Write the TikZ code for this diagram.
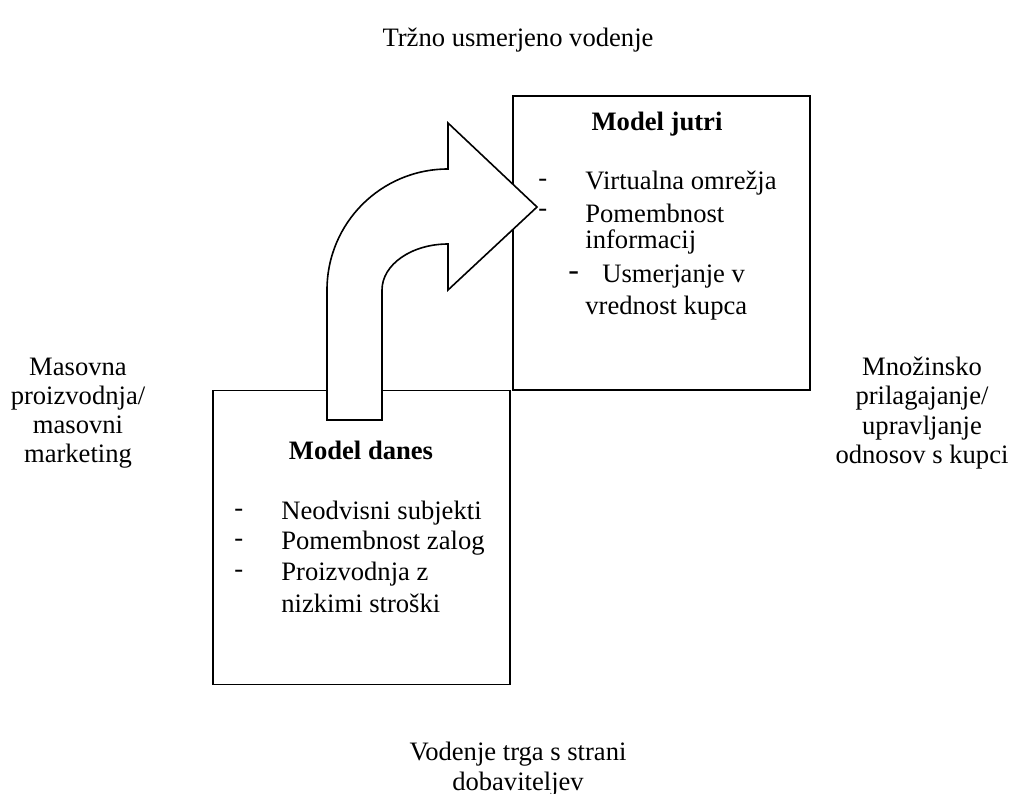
\documentclass[tikz,border=0pt]{standalone}
\usepackage{fontspec}
\setmainfont{Liberation Serif}
\tikzset{
  modelbox/.style={draw,line width=.8pt,minimum width=148.5pt,minimum height=147pt,inner sep=0pt},
  label/.style={align=center,font=\fontsize{13.3}{14.6}\selectfont,inner sep=0pt},
  title/.style={font=\fontsize{13.3}{14.6}\selectfont\bfseries,inner sep=0pt},
  item/.style={anchor=west,font=\fontsize{13.3}{14.6}\selectfont,inner sep=0pt},
}
\begin{document}
\begin{tikzpicture}[x=.5pt,y=-.5pt]
        \useasboundingbox (0,0) rectangle (1033,793);

        % the two models
        \node[modelbox] (jutri) at (661.5,243) {};
        \node[modelbox] (danes) at (361.5,537.5) {};

        % turning arrow
        \draw[line width=.8pt,fill=white] (327,420) -- (327,290)
          .. controls (327,223) and (381,169) .. (448,169) -- (448,123)
          -- (537,207) -- (448,290) -- (448,244)
          .. controls (411.5,244) and (382,264.6) .. (382,290)
          -- (382,420) -- cycle;

        \node[title] (tjutri) at (657,124) {Model jutri};
        \node[item] (d1) at (538,183) {-};
        \node[item] (j1) at (585,183) {Virtualna omrežja};
        \node[item] (d2) at (538,213) {-};
        \node[item] (j2) at (585,213) {Pomembnost};
        \node[item] (j3) at (585,242) {informacij};
        \node[item] (d3) at (568,276) {\fontsize{16}{16}\selectfont -};
        \node[item] (j4) at (602,277) {Usmerjanje v};
        \node[item] (j5) at (585,308) {vrednost kupca};

        \node[title] (tdanes) at (361,450) {Model danes};
        \node[item] (e1) at (234,513) {-};
        \node[item] (a1) at (281,513) {Neodvisni subjekti};
        \node[item] (e2) at (234,543) {-};
        \node[item] (a2) at (281,543) {Pomembnost zalog};
        \node[item] (e3) at (234,574) {-};
        \node[item] (a3) at (281,574) {Proizvodnja z};
        \node[item] (a4) at (281,603) {nizkimi stroški};

        % axis labels
        \node[label] (top) at (518,40) {Tržno usmerjeno vodenje};
        \node[label,anchor=north] (bottom) at (518,742) {Vodenje trga s strani\\dobaviteljev};
        \node[label] (left) at (78,413) {Masovna\\proizvodnja/\\masovni\\marketing};
        \node[label] (right) at (922,413) {Množinsko\\prilagajanje/\\upravljanje\\odnosov s kupci};

      \end{tikzpicture}
\end{document}
